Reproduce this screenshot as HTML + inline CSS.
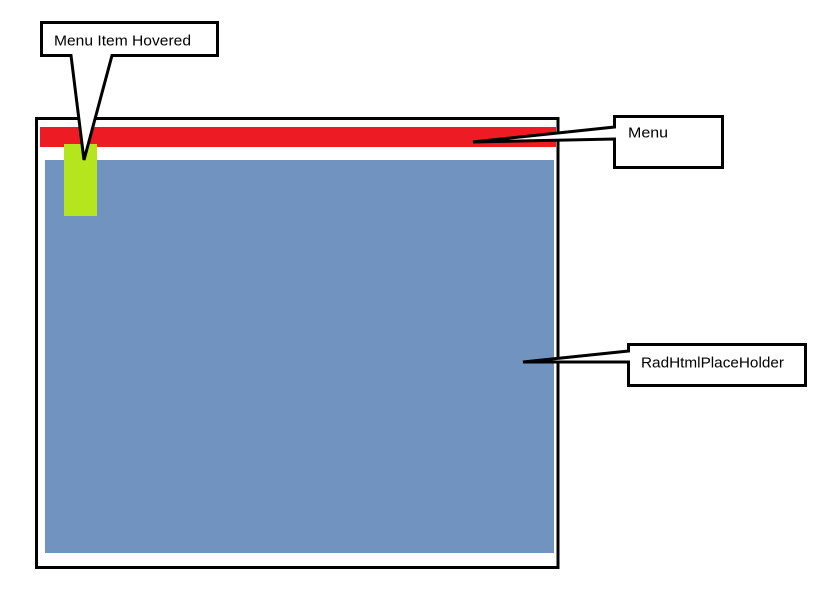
<!DOCTYPE html>
<html><head><style>html,body{margin:0;padding:0;background:#fff;}svg{display:block}</style></head>
<body>
<svg width="836" height="608" viewBox="0 0 836 608" xmlns="http://www.w3.org/2000/svg">
<rect x="0" y="0" width="836" height="608" fill="#fff"/>
<rect x="36.5" y="118.5" width="521.5" height="449" fill="#fff" stroke="#000" stroke-width="3"/>
<rect x="40" y="127" width="516" height="20" fill="#ed1c24"/>
<rect x="45" y="160" width="509" height="393" fill="#7093c0"/>
<rect x="64" y="144" width="33" height="72" fill="#b5e61d"/>
<g fill="#fff" stroke="#000" stroke-width="3" stroke-linejoin="miter">
<path d="M41.5 22.5 H217.5 V55.5 H112 L84 160 L71 55.5 H41.5 Z"/>
<path d="M614.5 116.5 H722.5 V167.5 H614.5 V139 L473 142 L614.5 127 Z"/>
<path d="M628.5 344.5 H805.5 V385.5 H628.5 V362 L523 362 L628.5 351 Z"/>
</g>
<g font-family="Liberation Sans, sans-serif" font-size="15" fill="#000">
<text x="54" y="45.5" textLength="137" lengthAdjust="spacingAndGlyphs">Menu Item Hovered</text>
<text x="628" y="137.5" textLength="40" lengthAdjust="spacingAndGlyphs">Menu</text>
<text x="641" y="367.5" textLength="143" lengthAdjust="spacingAndGlyphs">RadHtmlPlaceHolder</text>
</g>
</svg>
</body></html>
